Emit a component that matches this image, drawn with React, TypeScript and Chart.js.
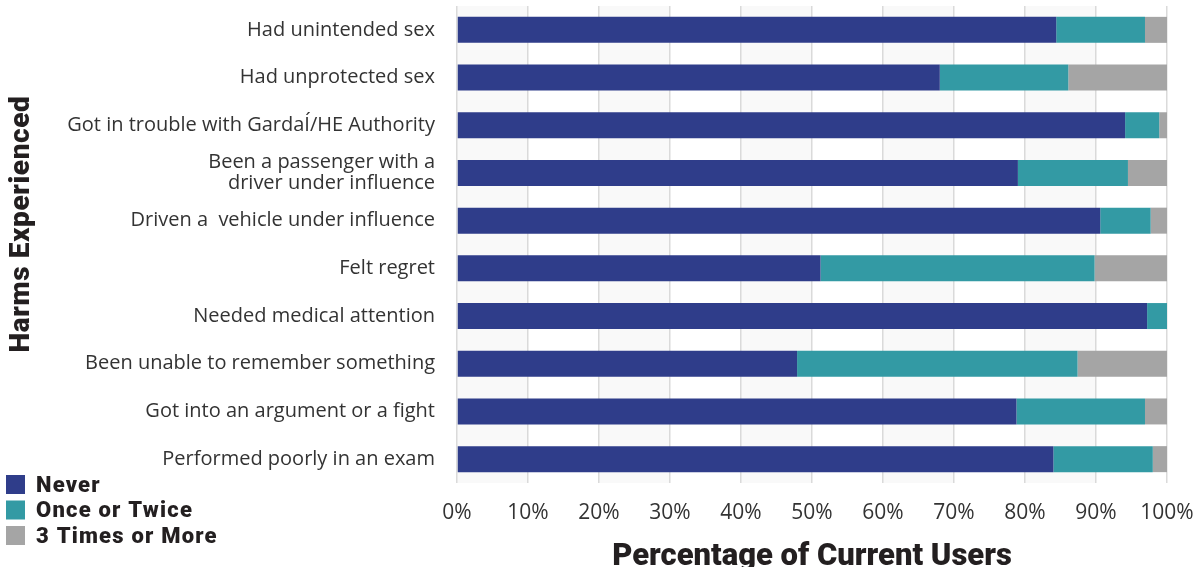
import React, { useEffect, useRef } from 'react';
import { Chart, registerables } from 'chart.js';

Chart.register(...registerables);

const categories: (string | string[])[] = [
  'Had unintended sex',
  'Had unprotected sex',
  'Got in trouble with GardaÍ/HE Authority',
  ['Been a passenger with a', 'driver under influence'],
  'Driven a  vehicle under influence',
  'Felt regret',
  'Needed medical attention',
  'Been unable to remember something',
  'Got into an argument or a fight',
  'Performed poorly in an exam',
];

const seriesNames = ['Never', 'Once or Twice', '3 Times or More'];
const seriesColors = ['#2F3D8A', '#339AA4', '#A5A5A5'];

const never = [84.4, 68.0, 94.1, 79.0, 90.6, 51.2, 97.2, 47.9, 78.8, 84.0];
const onceOrTwice = [12.5, 18.1, 4.8, 15.5, 7.1, 38.6, 2.8, 39.5, 18.1, 14.0];
const threeOrMore = [3.1, 13.9, 1.1, 5.5, 2.3, 10.2, 0.0, 12.6, 3.1, 2.0];

const xTickValues = [0, 10, 20, 30, 40, 50, 60, 70, 80, 90, 100];
const xTitle = 'Percentage of Current Users';
const yTitle = 'Harms Experienced';

const heavyFont = '"Roboto", "DejaVu Sans", sans-serif';
const lightFont = '"Open Sans", "DejaVu Sans", sans-serif';

const bandsPlugin = {
  id: 'bands',
  beforeDraw(chart: any) {
    const { ctx, chartArea, scales } = chart;
    const x = scales.x;
    ctx.save();
    ctx.fillStyle = '#F9F9F9';
    for (let i = 0; i < xTickValues.length - 1; i += 2) {
      const x0 = x.getPixelForValue(xTickValues[i]);
      const x1 = x.getPixelForValue(xTickValues[i + 1]);
      ctx.fillRect(x0, chartArea.top, x1 - x0, chartArea.bottom - chartArea.top);
    }
    ctx.restore();
  },
};

const extrasPlugin = {
  id: 'extras',
  afterDraw(chart: any) {
    const { ctx } = chart;
    ctx.save();
    // Y axis title
    ctx.translate(22, 224);
    ctx.rotate(-Math.PI / 2);
    ctx.font = `900 28px ${heavyFont}`;
    (ctx as any).letterSpacing = '0.6px';
    ctx.fillStyle = '#231F20';
    ctx.textAlign = 'center';
    ctx.textBaseline = 'middle';
    ctx.fillText(yTitle, 0, 0);
    ctx.restore();

    // Legend (bottom-left)
    ctx.save();
    chart.data.datasets.forEach((ds: any, i: number) => {
      const top = 475 + i * 25.5;
      ctx.fillStyle = ds.backgroundColor;
      ctx.fillRect(6, top, 19, 19);
      ctx.font = `900 22px ${heavyFont}`;
      (ctx as any).letterSpacing = '1.2px';
      ctx.fillStyle = '#231F20';
      ctx.textAlign = 'left';
      ctx.textBaseline = 'middle';
      ctx.fillText(ds.label, 36, top + 11);
    });
    ctx.restore();
  },
};

export default function App() {
  const ref = useRef<HTMLCanvasElement | null>(null);

  useEffect(() => {
    document.body.style.margin = '0';
    if (!ref.current) return;
    const data = [never, onceOrTwice, threeOrMore];
    const chart = new Chart(ref.current, {
      type: 'bar',
      data: {
        labels: categories,
        datasets: seriesNames.map((name, i) => ({
          label: name,
          data: data[i],
          backgroundColor: seriesColors[i],
          borderWidth: 0,
          categoryPercentage: 1,
          barPercentage: 0.545,
        })),
      },
      options: {
        indexAxis: 'y',
        responsive: false,
        animation: false,
        devicePixelRatio: 1,
        layout: { padding: { left: 0, right: 31, top: 6, bottom: 0 } },
        plugins: {
          legend: { display: false },
          tooltip: { enabled: false },
        },
        scales: {
          x: {
            stacked: true,
            min: 0,
            max: 100,
            afterBuildTicks: (scale: any) => {
              scale.ticks = xTickValues.map((v) => ({ value: v }));
            },
            afterFit: (scale: any) => {
              scale.height = 84;
              scale.paddingLeft = 0;
              scale.paddingRight = 0;
            },
            grid: { color: '#DADADA', lineWidth: 1.5, drawTicks: false },
            border: { display: false },
            ticks: {
              padding: 17,
              color: '#333333',
              autoSkip: false,
              maxRotation: 0,
              font: { family: lightFont, size: 21 },
              callback: (v: any) => `${v}%`,
            },
            title: {
              display: true,
              text: xTitle,
              color: '#231F20',
              font: { family: heavyFont, size: 31, weight: '900', lineHeight: 0.65 },
              padding: { top: 0, bottom: 0 },
            },
          },
          y: {
            stacked: true,
            afterFit: (scale: any) => {
              scale.width = 457;
              scale.paddingTop = 0;
              scale.paddingBottom = 0;
            },
            grid: { display: false, drawTicks: false },
            border: { display: false },
            ticks: {
              padding: 22,
              color: '#333333',
              autoSkip: false,
              font: { family: lightFont, size: 20, lineHeight: 1.08 },
            },
          },
        },
      },
      plugins: [bandsPlugin, extrasPlugin],
    });
    return () => chart.destroy();
  }, []);

  return <canvas ref={ref} width={1198} height={567} style={{ display: 'block' }} />;
}
